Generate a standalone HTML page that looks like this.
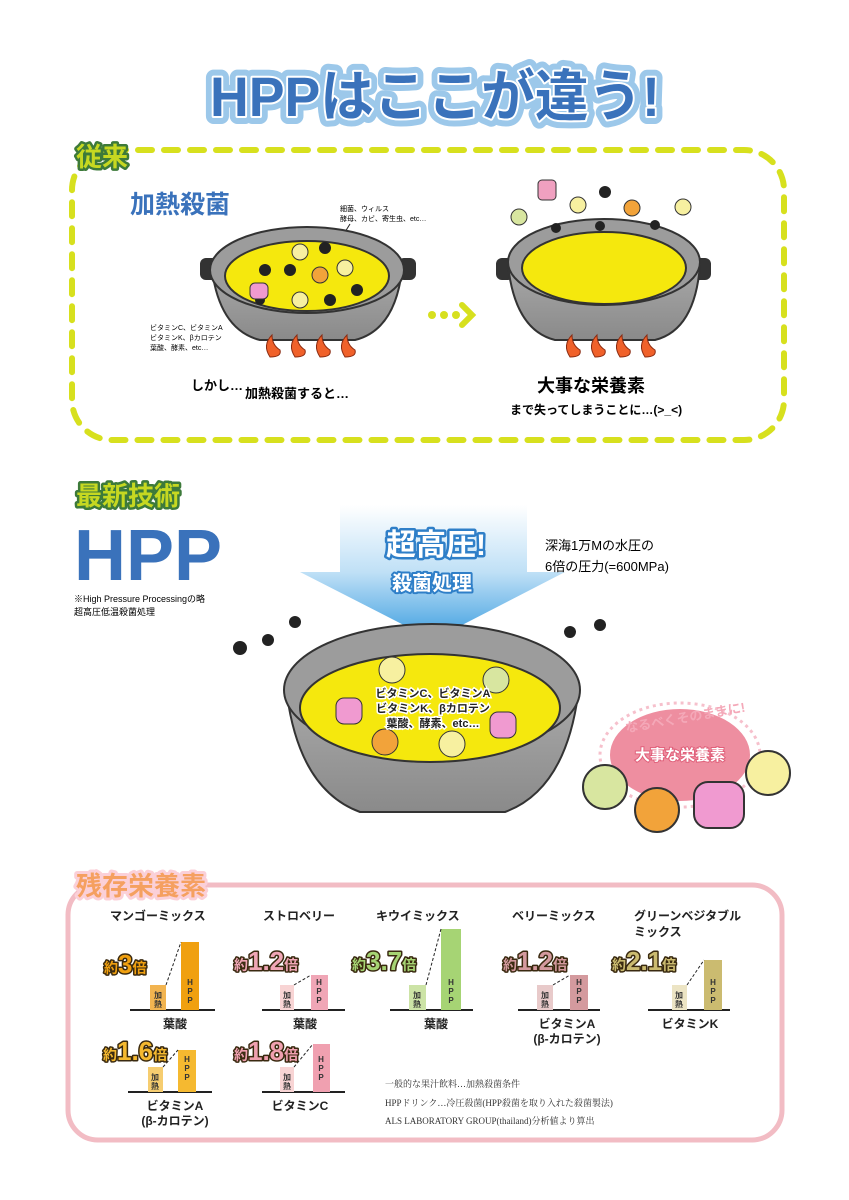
<!DOCTYPE html>
<html><head><meta charset="utf-8"><style>
html,body{margin:0;padding:0;background:#fff}
svg{display:block}
text{font-family:"Liberation Sans","Noto Sans CJK JP",sans-serif}
</style></head><body>
<svg width="849" height="1200" viewBox="0 0 849 1200" xmlns="http://www.w3.org/2000/svg">
<defs>
<linearGradient id="ag" x1="0" y1="0" x2="0" y2="1"><stop offset="0" stop-color="#ffffff"/><stop offset="0.5" stop-color="#bfe0f6"/><stop offset="1" stop-color="#3d9ee0"/></linearGradient>
<linearGradient id="pg" x1="0" y1="0" x2="0" y2="1"><stop offset="0" stop-color="#a8a8a8"/><stop offset="1" stop-color="#8a8a8a"/></linearGradient>
</defs>

<!-- Title -->
<text x="435" y="116" text-anchor="middle" font-size="56" font-weight="bold" fill="#fff" stroke="#9cc8ea" stroke-width="16" stroke-linejoin="round" textLength="450" lengthAdjust="spacingAndGlyphs">HPPはここが違う!</text>
<text x="435" y="116" text-anchor="middle" font-size="56" font-weight="bold" fill="#3a72bb" stroke="#fff" stroke-width="4" stroke-linejoin="round" paint-order="stroke" textLength="450" lengthAdjust="spacingAndGlyphs">HPPはここが違う!</text>

<!-- 従来 box -->
<rect x="72" y="150" width="712" height="290" rx="40" fill="none" stroke="#d7e01e" stroke-width="6" stroke-dasharray="14 12" stroke-linecap="round"/>
<text x="76" y="166" font-size="26" font-weight="bold" fill="#c6d821" stroke="#3d7a3a" stroke-width="5" stroke-linejoin="round" paint-order="stroke">従来</text>
<text x="130" y="213" font-size="25" font-weight="bold" fill="#3a72bb">加熱殺菌</text>
<text x="340" y="211" font-size="7">細菌、ウィルス</text>
<text x="340" y="221" font-size="7">酵母、カビ、寄生虫、etc…</text>
<line x1="350" y1="224" x2="335" y2="248" stroke="#222"/>

<!-- left pot -->
<g>
<rect x="200" y="258" width="18" height="22" rx="6" fill="#333"/>
<rect x="398" y="258" width="18" height="22" rx="6" fill="#333"/>
<path d="M212 270 Q220 330 260 340 L355 340 Q395 330 402 270 Z" fill="url(#pg)" stroke="#333" stroke-width="2"/>
<ellipse cx="307" cy="270" rx="97" ry="43" fill="#9c9c9c" stroke="#333" stroke-width="2"/>
<ellipse cx="307" cy="276" rx="82" ry="35" fill="#f5e80d" stroke="#333" stroke-width="2"/>
<g fill="#222">
<circle cx="265" cy="270" r="6"/><circle cx="290" cy="270" r="6"/><circle cx="325" cy="248" r="6"/><circle cx="357" cy="290" r="6"/><circle cx="330" cy="300" r="6"/><circle cx="260" cy="300" r="5"/>
</g>
<circle cx="300" cy="300" r="8" fill="#f7f0a0" stroke="#333"/>
<circle cx="320" cy="275" r="8" fill="#f2a33a" stroke="#333"/>
<circle cx="345" cy="268" r="8" fill="#f7f0a0" stroke="#333"/>
<circle cx="300" cy="252" r="8" fill="#f7f0a0" stroke="#333"/>
<rect x="250" y="283" width="18" height="16" rx="5" fill="#f09ad0" stroke="#333"/>
<g fill="#f0612a" stroke="#8a2a10">
<path d="M270 357 Q262 345 272 335 Q272 345 280 350 Q282 357 270 357Z"/>
<path d="M295 357 Q287 345 297 335 Q297 345 305 350 Q307 357 295 357Z"/>
<path d="M320 357 Q312 345 322 335 Q322 345 330 350 Q332 357 320 357Z"/>
<path d="M345 357 Q337 345 347 335 Q347 345 355 350 Q357 357 345 357Z"/>
</g>
</g>
<text x="150" y="330" font-size="7">ビタミンC、ビタミンA</text>
<text x="150" y="340" font-size="7">ビタミンK、βカロテン</text>
<text x="150" y="350" font-size="7">葉酸、酵素、etc…</text>
<text x="191" y="390" font-size="13" font-weight="bold">しかし…</text>
<text x="245" y="398" font-size="13" font-weight="bold">加熱殺菌すると…</text>

<!-- dots arrow -->
<g fill="#d7e01e"><circle cx="432" cy="315" r="4"/><circle cx="444" cy="315" r="4"/><circle cx="456" cy="315" r="4"/></g>
<path d="M462 305 L472 315 L462 325" fill="none" stroke="#d7e01e" stroke-width="6" stroke-linecap="round"/>

<!-- right pot -->
<g>
<rect x="496" y="258" width="18" height="22" rx="6" fill="#333"/>
<rect x="693" y="258" width="18" height="22" rx="6" fill="#333"/>
<path d="M508 265 Q515 330 555 340 L655 340 Q695 330 700 265 Z" fill="url(#pg)" stroke="#333" stroke-width="2"/>
<ellipse cx="604" cy="262" rx="96" ry="43" fill="#9c9c9c" stroke="#333" stroke-width="2"/>
<ellipse cx="604" cy="268" rx="82" ry="36" fill="#f5e80d" stroke="#333" stroke-width="2"/>
<g fill="#f0612a" stroke="#8a2a10">
<path d="M570 357 Q562 345 572 335 Q572 345 580 350 Q582 357 570 357Z"/>
<path d="M595 357 Q587 345 597 335 Q597 345 605 350 Q607 357 595 357Z"/>
<path d="M620 357 Q612 345 622 335 Q622 345 630 350 Q632 357 620 357Z"/>
<path d="M645 357 Q637 345 647 335 Q647 345 655 350 Q657 357 645 357Z"/>
</g>
<circle cx="519" cy="217" r="8" fill="#d8e6a0" stroke="#333"/>
<rect x="538" y="180" width="18" height="20" rx="4" fill="#f0a0c0" stroke="#333"/>
<circle cx="578" cy="205" r="8" fill="#f7f0a0" stroke="#333"/>
<circle cx="632" cy="208" r="8" fill="#f2a33a" stroke="#333"/>
<circle cx="683" cy="207" r="8" fill="#f7f0a0" stroke="#333"/>
<g fill="#222"><circle cx="605" cy="192" r="6"/><circle cx="556" cy="228" r="5"/><circle cx="600" cy="226" r="5"/><circle cx="655" cy="225" r="5"/></g>
</g>
<text x="537" y="392" font-size="18" font-weight="bold">大事な栄養素</text>
<text x="510" y="414" font-size="12" font-weight="bold">まで失ってしまうことに…(&gt;_&lt;)</text>

<!-- 最新技術 -->
<text x="76" y="505" font-size="26" font-weight="bold" fill="#c6d821" stroke="#3d7a3a" stroke-width="5" stroke-linejoin="round" paint-order="stroke">最新技術</text>
<text x="74" y="580" font-size="72" font-weight="bold" fill="#3a72bb">HPP</text>
<text x="74" y="602" font-size="9">※High Pressure Processingの略</text>
<text x="74" y="615" font-size="9">超高圧低温殺菌処理</text>

<!-- arrow -->
<path d="M340 505 L527 505 L527 572 L565 572 L433 640 L300 572 L340 572 Z" fill="url(#ag)"/>
<text x="436" y="555" text-anchor="middle" font-size="30" font-weight="bold" fill="#fff" stroke="#2f7fc8" stroke-width="5" stroke-linejoin="round" paint-order="stroke">超高圧!</text>
<text x="432" y="590" text-anchor="middle" font-size="20" font-weight="bold" fill="#fff" stroke="#2f7fc8" stroke-width="4" stroke-linejoin="round" paint-order="stroke">殺菌処理</text>
<text x="545" y="550" font-size="13">深海1万Mの水圧の</text>
<text x="545" y="571" font-size="13">6倍の圧力(=600MPa)</text>

<!-- big pot -->
<path d="M287 695 Q300 790 360 812 L505 812 Q565 790 578 695 Z" fill="url(#pg)" stroke="#333" stroke-width="2"/>
<ellipse cx="432" cy="690" rx="148" ry="66" fill="#9c9c9c" stroke="#333" stroke-width="2"/>
<ellipse cx="430" cy="708" rx="130" ry="54" fill="#f5e80d" stroke="#333" stroke-width="2"/>
<circle cx="392" cy="670" r="13" fill="#f7f0a0" stroke="#333"/>
<circle cx="496" cy="680" r="13" fill="#d8e6a0" stroke="#333"/>
<rect x="336" y="698" width="26" height="26" rx="8" fill="#f09ad0" stroke="#333"/>
<rect x="490" y="712" width="26" height="26" rx="8" fill="#f09ad0" stroke="#333"/>
<circle cx="385" cy="742" r="13" fill="#f2a33a" stroke="#333"/>
<circle cx="452" cy="744" r="13" fill="#f7f0a0" stroke="#333"/>
<text x="433" y="697" text-anchor="middle" font-size="11" font-weight="bold" fill="#222" stroke="#fff" stroke-width="3" paint-order="stroke">ビタミンC、ビタミンA</text>
<text x="433" y="712" text-anchor="middle" font-size="11" font-weight="bold" fill="#222" stroke="#fff" stroke-width="3" paint-order="stroke">ビタミンK、βカロテン</text>
<text x="433" y="727" text-anchor="middle" font-size="11" font-weight="bold" fill="#222" stroke="#fff" stroke-width="3" paint-order="stroke">葉酸、酵素、etc…</text>
<g fill="#222"><circle cx="240" cy="648" r="7"/><circle cx="268" cy="640" r="6"/><circle cx="295" cy="622" r="6"/><circle cx="570" cy="632" r="6"/><circle cx="600" cy="625" r="6"/></g>

<!-- pink circle -->
<ellipse cx="680" cy="755" rx="80" ry="52" fill="none" stroke="#f6c0cc" stroke-width="3" stroke-dasharray="3 4"/>
<ellipse cx="680" cy="755" rx="70" ry="46" fill="#ee8ea0"/>
<text x="680" y="760" text-anchor="middle" font-size="15" font-weight="bold" fill="#fff" stroke="#e0607a" stroke-width="2" paint-order="stroke">大事な栄養素</text>
<text x="686" y="722" text-anchor="middle" font-size="13" font-weight="bold" fill="#f4a8b8" transform="rotate(-10 686 722)">なるべくそのままに!</text>
<circle cx="605" cy="787" r="22" fill="#d8e6a0" stroke="#333" stroke-width="2"/>
<circle cx="657" cy="810" r="22" fill="#f2a33a" stroke="#333" stroke-width="2"/>
<rect x="694" y="782" width="50" height="46" rx="14" fill="#f09ad0" stroke="#333" stroke-width="2"/>
<circle cx="768" cy="773" r="22" fill="#f7f0a0" stroke="#333" stroke-width="2"/>

<!-- 残存栄養素 -->
<rect x="68" y="885" width="714" height="255" rx="30" fill="none" stroke="#f2bcc4" stroke-width="5"/>
<text x="76" y="895" font-size="26" font-weight="bold" fill="#f5a060" stroke="#fbd0d8" stroke-width="6" stroke-linejoin="round" paint-order="stroke">残存栄養素</text>

<g font-size="12" font-weight="bold" fill="#222">
<text x="110" y="920">マンゴーミックス</text>
<text x="263" y="920">ストロベリー</text>
<text x="376" y="920">キウイミックス</text>
<text x="512" y="920">ベリーミックス</text>
<text x="634" y="920">グリーンベジタブル</text>
<text x="634" y="936">ミックス</text>
</g>

<!-- charts -->
<g stroke="#222" stroke-width="2">
<line x1="130" y1="1010" x2="215" y2="1010"/><line x1="262" y1="1010" x2="345" y2="1010"/><line x1="390" y1="1010" x2="473" y2="1010"/><line x1="518" y1="1010" x2="600" y2="1010"/><line x1="648" y1="1010" x2="730" y2="1010"/>
<line x1="128" y1="1092" x2="212" y2="1092"/><line x1="262" y1="1092" x2="345" y2="1092"/>
</g>
<rect x="150" y="985" width="16" height="25" fill="#f2b450"/><rect x="181" y="942" width="18" height="68" fill="#f0a010"/>
<rect x="280" y="985" width="14" height="25" fill="#f8d4d4"/><rect x="311" y="975" width="17" height="35" fill="#f0a6b6"/>
<rect x="409" y="985" width="17" height="25" fill="#cce3a6"/><rect x="441" y="929" width="20" height="81" fill="#a6d474"/>
<rect x="537" y="985" width="16" height="25" fill="#e8caca"/><rect x="570" y="975" width="18" height="35" fill="#d49a9e"/>
<rect x="672" y="985" width="15" height="25" fill="#ece4c4"/><rect x="704" y="960" width="18" height="50" fill="#cbbb70"/>
<rect x="148" y="1067" width="15" height="25" fill="#f6cd70"/><rect x="178" y="1050" width="18" height="42" fill="#f5b930"/>
<rect x="280" y="1067" width="14" height="25" fill="#f8d4d4"/><rect x="313" y="1044" width="17" height="48" fill="#f0a0b0"/>
<g stroke="#222" stroke-dasharray="3 2" fill="none">
<line x1="166" y1="985" x2="181" y2="942"/><line x1="294" y1="985" x2="311" y2="975"/><line x1="426" y1="985" x2="441" y2="929"/><line x1="553" y1="985" x2="570" y2="975"/><line x1="687" y1="985" x2="704" y2="960"/><line x1="163" y1="1067" x2="178" y2="1050"/><line x1="294" y1="1067" x2="313" y2="1044"/>
</g>
<g font-size="8" font-weight="bold" fill="#333" text-anchor="middle">
<text x="158" y="998">加</text><text x="158" y="1007">熱</text>
<text x="287" y="998">加</text><text x="287" y="1007">熱</text>
<text x="417" y="998">加</text><text x="417" y="1007">熱</text>
<text x="545" y="998">加</text><text x="545" y="1007">熱</text>
<text x="679" y="998">加</text><text x="679" y="1007">熱</text>
<text x="155" y="1080">加</text><text x="155" y="1089">熱</text>
<text x="287" y="1080">加</text><text x="287" y="1089">熱</text>
<text x="190" y="985">H</text><text x="190" y="994">P</text><text x="190" y="1003">P</text>
<text x="319" y="985">H</text><text x="319" y="994">P</text><text x="319" y="1003">P</text>
<text x="451" y="985">H</text><text x="451" y="994">P</text><text x="451" y="1003">P</text>
<text x="579" y="985">H</text><text x="579" y="994">P</text><text x="579" y="1003">P</text>
<text x="713" y="985">H</text><text x="713" y="994">P</text><text x="713" y="1003">P</text>
<text x="187" y="1062">H</text><text x="187" y="1071">P</text><text x="187" y="1080">P</text>
<text x="321" y="1062">H</text><text x="321" y="1071">P</text><text x="321" y="1080">P</text>
</g>
<g font-weight="bold" stroke="#3a2a10" stroke-width="3" stroke-linejoin="round" paint-order="stroke">
<text x="104" y="973" font-size="14" fill="#f0a010">約<tspan font-size="26">3</tspan>倍</text>
<text x="234" y="970" font-size="14" fill="#f0a6b6">約<tspan font-size="26">1.2</tspan>倍</text>
<text x="352" y="970" font-size="14" fill="#a6d474">約<tspan font-size="26">3.7</tspan>倍</text>
<text x="503" y="970" font-size="14" fill="#d49a9e">約<tspan font-size="26">1.2</tspan>倍</text>
<text x="612" y="970" font-size="14" fill="#cbbb70">約<tspan font-size="26">2.1</tspan>倍</text>
<text x="103" y="1060" font-size="14" fill="#f5b930">約<tspan font-size="26">1.6</tspan>倍</text>
<text x="234" y="1060" font-size="14" fill="#f0a0b0">約<tspan font-size="26">1.8</tspan>倍</text>
</g>
<g font-size="12" font-weight="bold" fill="#222" text-anchor="middle">
<text x="175" y="1028">葉酸</text><text x="305" y="1028">葉酸</text><text x="436" y="1028">葉酸</text>
<text x="567" y="1028">ビタミンA</text><text x="567" y="1043">(β-カロテン)</text>
<text x="690" y="1028">ビタミンK</text>
<text x="175" y="1110">ビタミンA</text><text x="175" y="1125">(β-カロテン)</text>
<text x="300" y="1110">ビタミンC</text>
</g>
<g font-size="9" fill="#333">
<text x="385" y="1087" style="font-family:'Liberation Serif','Noto Serif CJK SC',serif">一般的な果汁飲料…加熱殺菌条件</text>
<text x="385" y="1106" style="font-family:'Liberation Serif','Noto Serif CJK SC',serif">HPPドリンク…冷圧殺菌(HPP殺菌を取り入れた殺菌製法)</text>
<text x="385" y="1124" style="font-family:'Liberation Serif','Noto Serif CJK SC',serif">ALS LABORATORY GROUP(thailand)分析値より算出</text>
</g>
</svg>
</body></html>
